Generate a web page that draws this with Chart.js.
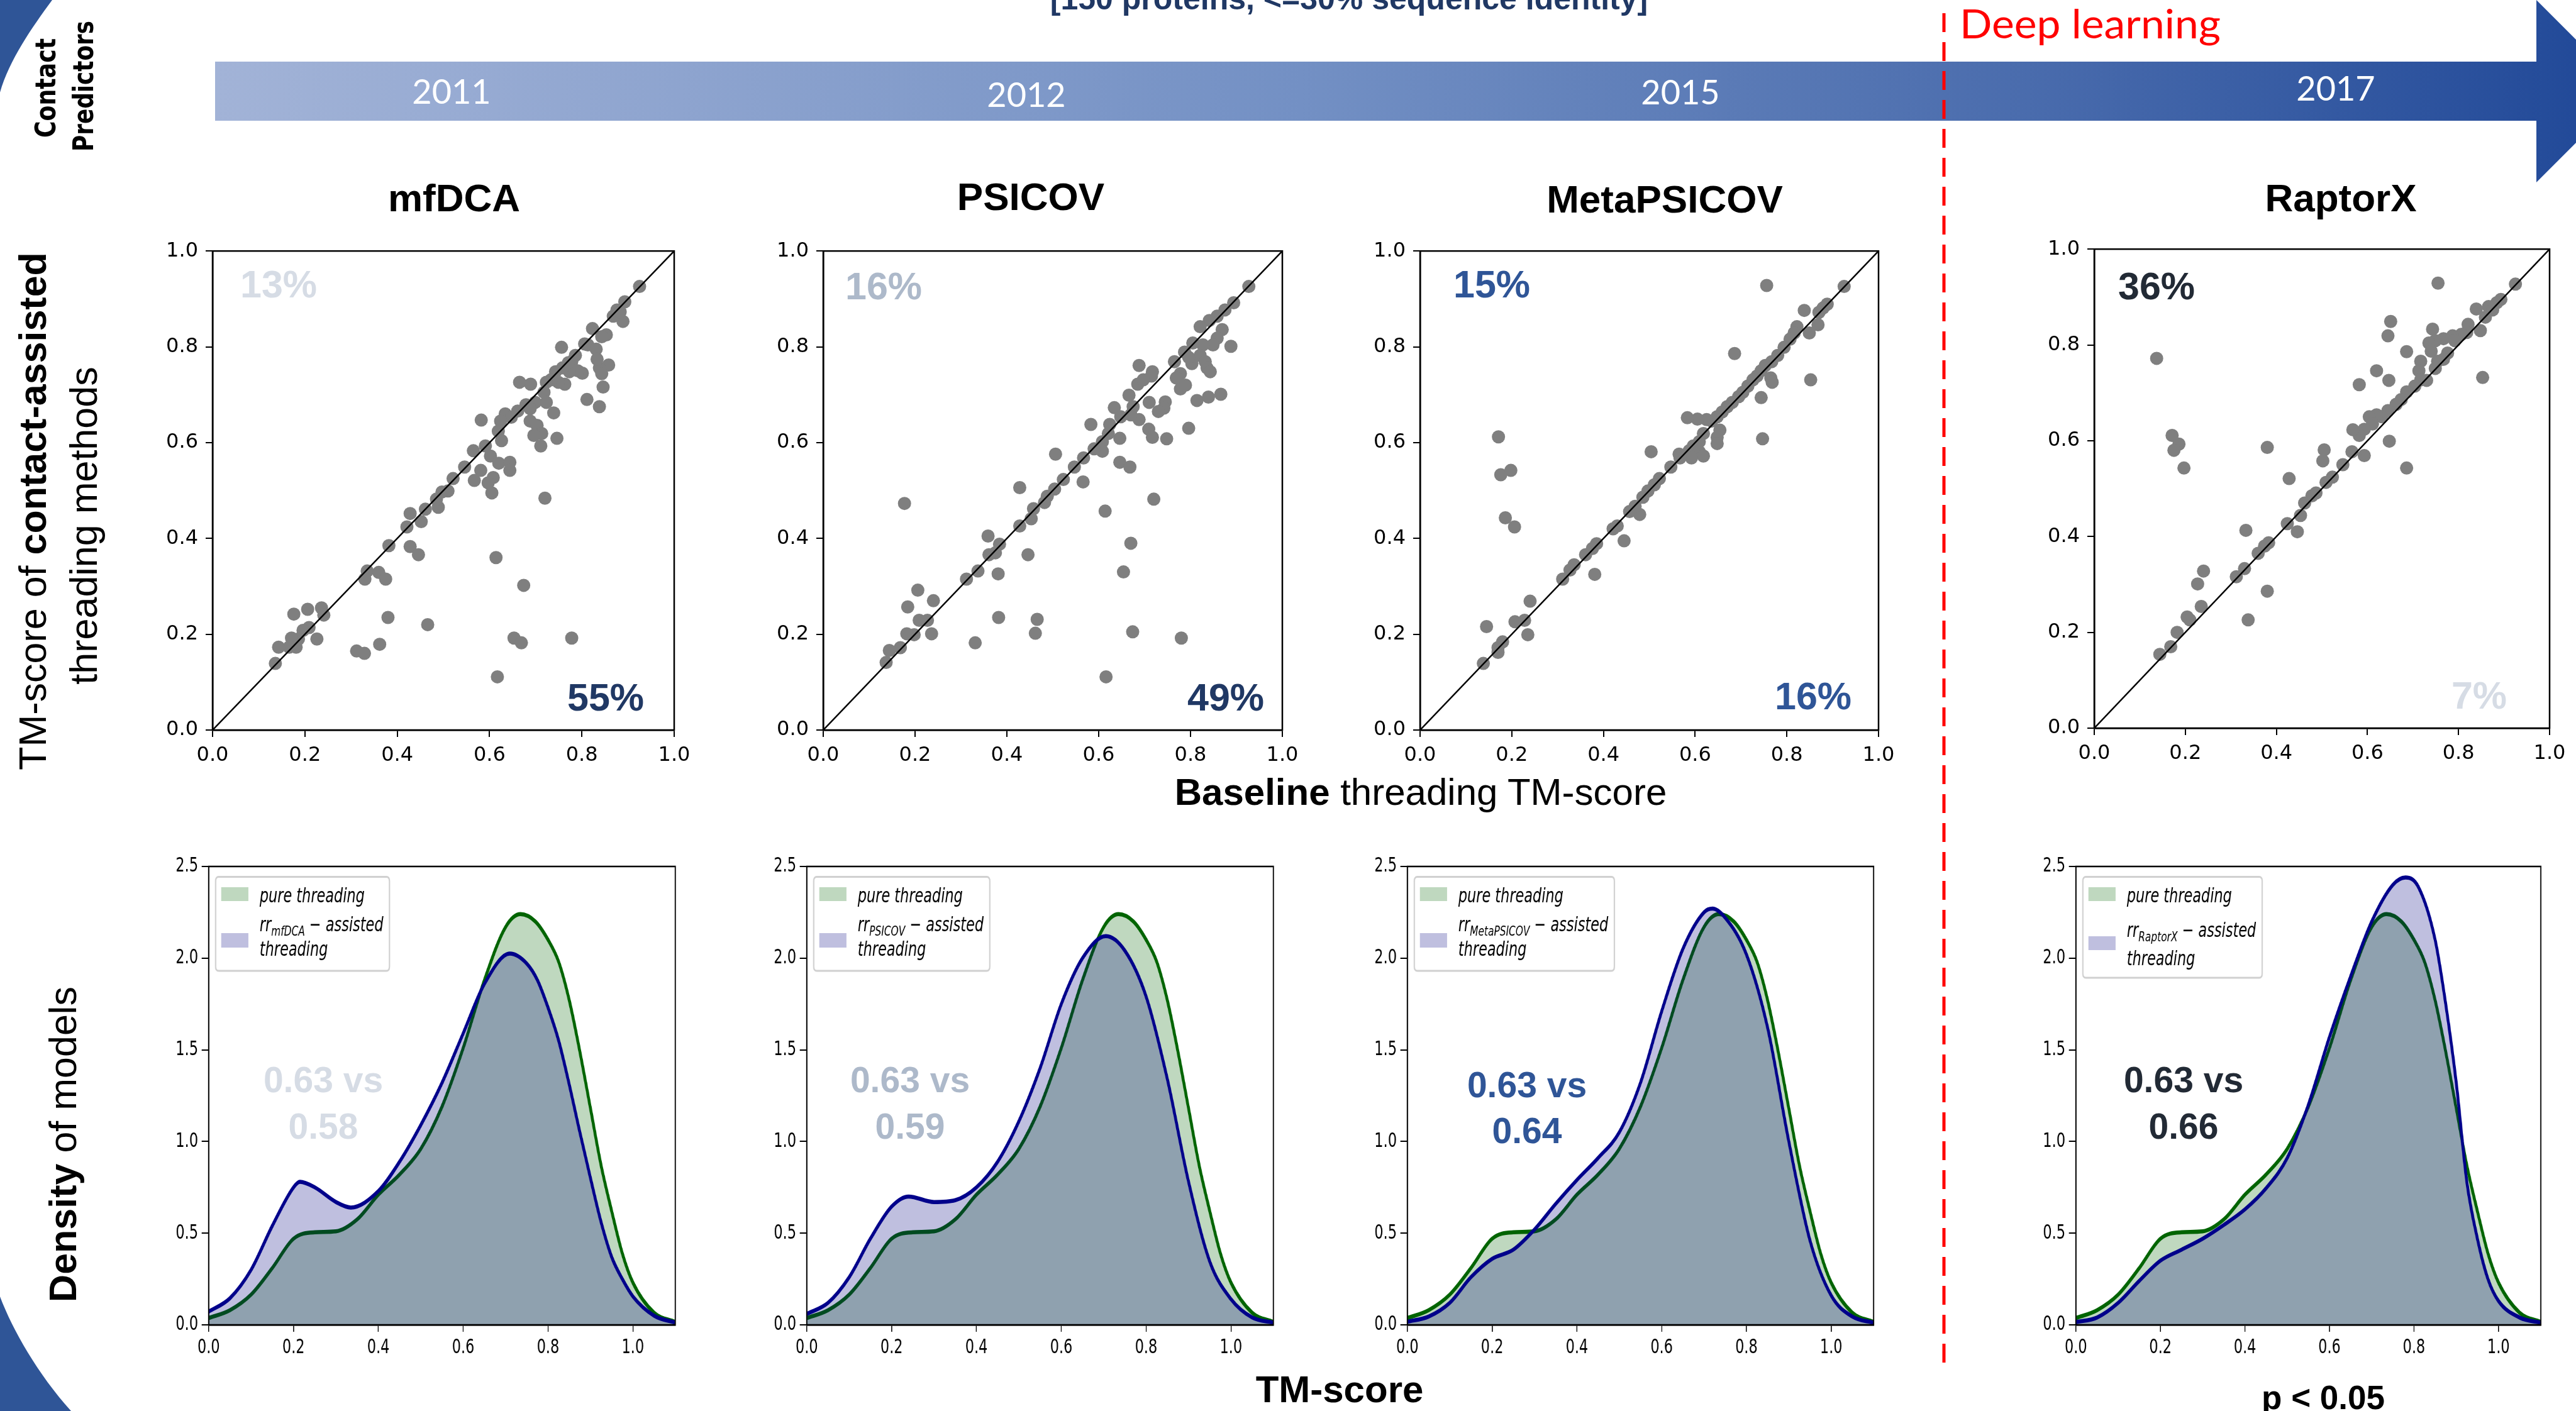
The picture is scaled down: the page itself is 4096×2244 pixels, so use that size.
<!DOCTYPE html>
<html>
<head>
<meta charset="utf-8">
<script src="https://cdn.jsdelivr.net/npm/chart.js@4.4.1/dist/chart.umd.min.js"></script>
<style>
  html, body { margin: 0; padding: 0; background: #fff; }
  #page { position: relative; width: 4096px; height: 2244px; overflow: hidden; background: #fff; }
  #page canvas { position: absolute; }
  #overlay { position: absolute; left: 0; top: 0; pointer-events: none; }
</style>
</head>
<body>
<div id="page"></div>
<script>
// ---------------- data ----------------
const predictors = ['mfDCA', 'PSICOV', 'MetaPSICOV', 'RaptorX'];
const years = ['2011', '2012', '2015', '2017'];
const improvedShare = ['13%', '16%', '15%', '36%'];
const worsenedShare = ['55%', '49%', '16%', '7%'];
const meanPure = ['0.63', '0.63', '0.63', '0.63'];
const meanAssisted = ['0.58', '0.59', '0.64', '0.66'];
const scatterTicks = [0, 0.2, 0.4, 0.6, 0.8, 1.0];
const densityXTicks = [0, 0.2, 0.4, 0.6, 0.8, 1.0];
const densityYTicks = [0, 0.5, 1.0, 1.5, 2.0, 2.5];
const diagonal = [[0, 0], [1, 1]];

// [baseline TM-score, contact-assisted TM-score]
const mfdcaPoints = [[.925,.926],[.893,.894],[.889,.853],[.876,.877],[.868,.864],[.883,.873],[.853,.825],[.823,.838],[.843,.821],[.813,.804],[.858,.762],[.838,.756],[.843,.744],[.846,.716],[.838,.675],[.811,.690],[.801,.745],[.791,.750],[.773,.748],[.763,.722],[.749,.726],[.756,.799],[.806,.806],[.831,.795],[.833,.774],[.786,.782],[.778,.769],[.771,.767],[.758,.756],[.743,.748],[.733,.731],[.723,.726],[.689,.722],[.665,.726],[.718,.705],[.723,.684],[.699,.684],[.679,.679],[.739,.662],[.688,.671],[.688,.645],[.703,.636],[.713,.619],[.696,.615],[.711,.593],[.746,.609],[.634,.660],[.647,.653],[.661,.666],[.624,.645],[.619,.624],[.582,.647],[.591,.593],[.565,.583],[.602,.572],[.626,.604],[.620,.557],[.644,.559],[.644,.542],[.581,.542],[.567,.521],[.608,.527],[.597,.516],[.605,.495],[.546,.549],[.521,.525],[.510,.499],[.497,.497],[.489,.465],[.485,.482],[.461,.461],[.452,.435],[.428,.452],[.421,.424],[.428,.383],[.446,.366],[.720,.484],[.382,.385],[.335,.332],[.330,.315],[.360,.329],[.375,.315],[.380,.235],[.466,.220],[.614,.360],[.674,.302],[.653,.192],[.669,.182],[.778,.192],[.617,.111],[.312,.165],[.329,.160],[.362,.179],[.236,.255],[.241,.240],[.206,.252],[.176,.242],[.209,.214],[.196,.208],[.186,.190],[.226,.190],[.171,.192],[.181,.173],[.166,.173],[.143,.173],[.136,.139]];
const psicovPoints = [[.927,.926],[.894,.892],[.888,.801],[.875,.877],[.869,.836],[.858,.864],[.841,.855],[.821,.842],[.858,.818],[.849,.804],[.827,.804],[.805,.808],[.821,.782],[.832,.769],[.836,.756],[.843,.748],[.803,.765],[.787,.789],[.796,.778],[.765,.769],[.778,.744],[.769,.735],[.778,.712],[.789,.720],[.814,.688],[.839,.695],[.866,.701],[.796,.630],[.748,.608],[.745,.685],[.742,.672],[.730,.665],[.717,.748],[.715,.739],[.688,.761],[.685,.722],[.697,.731],[.710,.684],[.709,.628],[.717,.611],[.666,.699],[.634,.673],[.675,.675],[.688,.648],[.670,.658],[.648,.654],[.624,.638],[.583,.638],[.646,.609],[.621,.619],[.608,.602],[.608,.582],[.590,.587],[.646,.559],[.668,.549],[.567,.568],[.566,.518],[.547,.549],[.523,.523],[.504,.503],[.488,.488],[.482,.475],[.506,.576],[.428,.506],[.458,.462],[.453,.441],[.428,.426],[.614,.457],[.720,.482],[.359,.405],[.384,.388],[.375,.370],[.361,.366],[.446,.366],[.381,.326],[.337,.332],[.312,.315],[.670,.390],[.654,.330],[.382,.235],[.466,.231],[.462,.202],[.674,.205],[.780,.192],[.616,.111],[.331,.182],[.177,.473],[.206,.292],[.240,.270],[.184,.257],[.209,.229],[.227,.229],[.236,.201],[.198,.199],[.182,.201],[.168,.172],[.144,.166],[.137,.141]];
const metaPoints = [[.925,.926],[.756,.928],[.888,.889],[.879,.881],[.870,.872],[.838,.876],[.868,.846],[.849,.829],[.822,.842],[.816,.829],[.807,.816],[.794,.799],[.780,.782],[.767,.769],[.753,.761],[.744,.750],[.735,.739],[.726,.731],[.715,.718],[.704,.705],[.695,.696],[.686,.786],[.852,.731],[.765,.735],[.768,.726],[.744,.694],[.747,.608],[.681,.684],[.670,.675],[.659,.664],[.648,.654],[.636,.645],[.625,.648],[.605,.649],[.583,.652],[.654,.626],[.648,.611],[.648,.598],[.618,.619],[.609,.602],[.596,.593],[.587,.583],[.565,.576],[.609,.581],[.618,.572],[.592,.568],[.567,.568],[.504,.581],[.547,.549],[.522,.525],[.511,.512],[.497,.499],[.486,.486],[.479,.450],[.469,.467],[.457,.456],[.445,.395],[.430,.426],[.421,.420],[.385,.389],[.376,.379],[.361,.366],[.381,.325],[.336,.345],[.327,.334],[.311,.315],[.240,.269],[.228,.229],[.207,.226],[.235,.199],[.180,.184],[.170,.172],[.170,.162],[.145,.216],[.138,.139],[.171,.612],[.176,.533],[.198,.542],[.186,.443],[.206,.424]];
const raptorPoints = [[.925,.927],[.755,.929],[.893,.895],[.884,.888],[.866,.880],[.875,.873],[.839,.875],[.859,.858],[.848,.830],[.821,.843],[.818,.826],[.853,.732],[.806,.822],[.787,.819],[.792,.809],[.767,.813],[.749,.809],[.735,.804],[.743,.833],[.740,.787],[.776,.783],[.767,.770],[.754,.766],[.749,.751],[.717,.766],[.713,.746],[.717,.727],[.730,.726],[.651,.849],[.645,.819],[.686,.786],[.620,.746],[.647,.726],[.582,.717],[.704,.714],[.686,.702],[.674,.686],[.663,.676],[.645,.663],[.632,.650],[.620,.654],[.604,.650],[.611,.635],[.593,.624],[.582,.611],[.568,.623],[.566,.577],[.593,.569],[.648,.599],[.686,.543],[.546,.550],[.523,.524],[.509,.513],[.505,.581],[.502,.558],[.487,.491],[.478,.485],[.462,.470],[.453,.444],[.428,.521],[.424,.427],[.446,.410],[.380,.586],[.383,.387],[.374,.380],[.360,.365],[.333,.413],[.330,.333],[.312,.316],[.380,.286],[.338,.226],[.240,.328],[.227,.301],[.235,.254],[.204,.232],[.210,.226],[.182,.200],[.168,.170],[.144,.154],[.137,.772],[.171,.611],[.186,.593],[.175,.580],[.197,.543]];

// density of models: [TM-score, density]
const pureKde = [[0,0.037],[0.05,0.08],[0.1,0.165],[0.15,0.31],[0.2,0.47],[0.25,0.505],[0.3,0.51],[0.35,0.575],[0.4,0.71],[0.45,0.82],[0.5,0.96],[0.55,1.19],[0.6,1.51],[0.65,1.88],[0.7,2.17],[0.735,2.24],[0.77,2.20],[0.8,2.10],[0.825,1.98],[0.85,1.77],[0.875,1.49],[0.9,1.18],[0.925,0.87],[0.95,0.62],[0.975,0.39],[1.0,0.23],[1.05,0.066],[1.1,0.016]];
const mfdcaKde = [[0,0.072],[0.05,0.145],[0.1,0.30],[0.15,0.54],[0.2,0.75],[0.215,0.78],[0.25,0.75],[0.3,0.67],[0.335,0.64],[0.4,0.73],[0.45,0.89],[0.5,1.09],[0.55,1.32],[0.6,1.59],[0.65,1.86],[0.71,2.025],[0.75,1.97],[0.775,1.88],[0.8,1.73],[0.825,1.55],[0.85,1.31],[0.875,1.05],[0.9,0.80],[0.925,0.56],[0.95,0.37],[0.975,0.25],[1.0,0.155],[1.05,0.05],[1.1,0.012]];
const psicovKde = [[0,0.06],[0.05,0.12],[0.1,0.26],[0.15,0.47],[0.2,0.645],[0.24,0.70],[0.3,0.67],[0.35,0.68],[0.4,0.75],[0.45,0.89],[0.5,1.11],[0.55,1.40],[0.6,1.75],[0.65,2.00],[0.705,2.12],[0.75,2.04],[0.8,1.79],[0.85,1.34],[0.9,0.78],[0.95,0.345],[1.0,0.14],[1.05,0.04],[1.1,0.012]];
const metaKde = [[0,0.017],[0.05,0.045],[0.1,0.12],[0.15,0.26],[0.2,0.36],[0.25,0.41],[0.3,0.52],[0.35,0.66],[0.4,0.79],[0.45,0.91],[0.5,1.05],[0.55,1.32],[0.6,1.71],[0.65,2.05],[0.7,2.25],[0.72,2.27],[0.75,2.22],[0.8,2.02],[0.85,1.62],[0.9,1.0],[0.95,0.46],[1.0,0.16],[1.05,0.045],[1.1,0.012]];
const raptorKde = [[0,0.015],[0.05,0.04],[0.1,0.12],[0.15,0.24],[0.2,0.35],[0.25,0.41],[0.3,0.47],[0.35,0.545],[0.4,0.63],[0.45,0.745],[0.5,0.91],[0.55,1.20],[0.6,1.57],[0.65,1.90],[0.7,2.20],[0.75,2.40],[0.78,2.44],[0.81,2.39],[0.85,2.10],[0.875,1.75],[0.9,1.32],[0.925,0.78],[0.95,0.47],[0.975,0.25],[1.0,0.13],[1.05,0.04],[1.1,0.012]];

const scatterSets = [mfdcaPoints, psicovPoints, metaPoints, raptorPoints];
const assistedKdes = [mfdcaKde, psicovKde, metaKde, raptorKde];

// ---------------- layout & style ----------------
const SQ = 0.7;                 // horizontal compression of the density panels
const SANS = "'Liberation Sans', Arial, sans-serif";
const TICKFONT = "'DejaVu Sans', sans-serif";
const scatterRects = [
  { l: 338, t: 398, r: 1072, b: 1161 },
  { l: 1309, t: 398, r: 2039, b: 1161 },
  { l: 2258, t: 398, r: 2987, b: 1161 },
  { l: 3330, t: 395, r: 4054, b: 1158 },
];
const densityRects = [
  { l: 332, t: 1378, r: 1074, b: 2107 },
  { l: 1283, t: 1378, r: 2025, b: 2107 },
  { l: 2238, t: 1378, r: 2979, b: 2107 },
  { l: 3301, t: 1378, r: 4040, b: 2107 },
];
const legendBoxes = [
  { bottom: 166, blue: [106, 129], b2: 103, b3: 142 },
  { bottom: 166, blue: [106, 129], b2: 103, b3: 142 },
  { bottom: 166, blue: [106, 129], b2: 103, b3: 142 },
  { bottom: 177, blue: [111, 133], b2: 112, b3: 157 },
];
const GREEN_FILL = 'rgba(0,100,0,0.25)';
const BLUE_FILL = 'rgba(0,0,128,0.25)';

Chart.defaults.color = '#000';

const page = document.getElementById('page');
const toXY = arr => arr.map(p => ({ x: p[0], y: p[1] }));

function makeCanvas(rect, m, squish) {
  const plotW = (rect.r - rect.l) / squish;
  const plotH = rect.b - rect.t;
  const c = document.createElement('canvas');
  c.width = Math.round(m.ly + plotW + m.pr);
  c.height = Math.round(m.pt + plotH + m.lx);
  c.style.left = (rect.l - m.ly * squish) + 'px';
  c.style.top = (rect.t - m.pt) + 'px';
  if (squish !== 1) {
    c.style.transform = 'scaleX(' + squish + ')';
    c.style.transformOrigin = '0 0';
  }
  page.appendChild(c);
  return c;
}

// full box around the plotting area
const framePlugin = {
  id: 'frame',
  afterDatasetsDraw(chart, args, opts) {
    const a = chart.chartArea, ctx = chart.ctx;
    ctx.save();
    ctx.strokeStyle = '#000';
    ctx.lineWidth = opts.width || 2;
    ctx.strokeRect(a.left, a.top, a.right - a.left, a.bottom - a.top);
    ctx.restore();
  }
};

// legend with a subscripted predictor name
const kdeLegend = {
  id: 'kdeLegend',
  afterDraw(chart, args, o) {
    if (!o || !o.sub) return;
    const ctx = chart.ctx, a = chart.chartArea;
    const X = v => a.left + v / SQ;
    const Y = v => a.top + v;
    const fs = 32;
    const it = 'italic ' + fs + "px 'DejaVu Sans'";
    const sub = 'italic ' + Math.round(fs * 0.7) + "px 'DejaVu Sans'";
    const up = fs + "px 'DejaVu Sans'";
    ctx.save();
    ctx.font = it; const w1 = ctx.measureText('pure threading').width;
    const wrr = ctx.measureText('rr').width;
    const was = ctx.measureText('assisted').width;
    ctx.font = sub; const wsub = ctx.measureText(o.sub).width;
    ctx.font = up; const wm = ctx.measureText(' \u2212 ').width;
    const w2 = wrr + wsub + wm + was;
    const tx = X(81);
    const bl = X(11), bt = Y(16.6), br = tx + Math.max(w1, w2) + 14, bb = Y(o.bottom);
    const r = 7;
    ctx.beginPath();
    ctx.moveTo(bl + r, bt);
    ctx.lineTo(br - r, bt); ctx.quadraticCurveTo(br, bt, br, bt + r);
    ctx.lineTo(br, bb - r); ctx.quadraticCurveTo(br, bb, br - r, bb);
    ctx.lineTo(bl + r, bb); ctx.quadraticCurveTo(bl, bb, bl, bb - r);
    ctx.lineTo(bl, bt + r); ctx.quadraticCurveTo(bl, bt, bl + r, bt);
    ctx.closePath();
    ctx.fillStyle = 'rgba(255,255,255,0.85)';
    ctx.fill();
    ctx.strokeStyle = '#d0d0d0';
    ctx.lineWidth = 3;
    ctx.stroke();
    ctx.fillStyle = GREEN_FILL;
    ctx.fillRect(X(20), Y(33), X(63) - X(20), 22);
    ctx.fillStyle = BLUE_FILL;
    ctx.fillRect(X(20), Y(o.blue[0]), X(63) - X(20), o.blue[1] - o.blue[0]);
    ctx.fillStyle = '#000';
    ctx.textBaseline = 'alphabetic';
    ctx.font = it; ctx.fillText('pure threading', tx, Y(57));
    let x = tx;
    ctx.fillText('rr', x, Y(o.b2)); x += wrr;
    ctx.font = sub; ctx.fillText(o.sub, x, Y(o.b2) + 7); x += wsub;
    ctx.font = up; ctx.fillText(' \u2212 ', x, Y(o.b2)); x += wm;
    ctx.font = it; ctx.fillText('assisted', x, Y(o.b2));
    ctx.fillText('threading', tx, Y(o.b3));
    ctx.restore();
  }
};

function axisOpts(min, max, step, fixed, tickLen, pad, size, keep) {
  return {
    type: 'linear', min: min, max: max,
    afterFit: fixed,
    afterBuildTicks: s => { s.ticks = keep.map(v => ({ value: v })); },
    grid: { display: true, drawOnChartArea: false, tickLength: tickLen, color: '#000', lineWidth: 2 },
    border: { display: true, color: '#000', width: 2.5 },
    ticks: { stepSize: step, includeBounds: false, padding: pad, maxRotation: 0, autoSkip: false,
             font: { family: TICKFONT, size: size }, color: '#000', callback: v => Number(v).toFixed(1) }
  };
}

// ---- scatter panels ----
const SM = { ly: 110, lx: 75, pt: 30, pr: 45 };
scatterSets.forEach((pts, i) => {
  const c = makeCanvas(scatterRects[i], SM, 1);
  new Chart(c, {
    type: 'scatter',
    data: {
      datasets: [
        { type: 'line', data: toXY(diagonal), borderColor: '#000', borderWidth: 2.5, pointRadius: 0, order: 0 },
        { label: predictors[i], data: toXY(pts), backgroundColor: '#7f7f7f', borderWidth: 0, pointRadius: 10.5, order: 1 }
      ]
    },
    options: {
      responsive: false, animation: false, devicePixelRatio: 1, events: [],
      layout: { padding: { left: 0, top: SM.pt, right: SM.pr, bottom: 0 } },
      plugins: { legend: { display: false }, tooltip: { enabled: false }, frame: { width: 2.5 } },
      scales: {
        x: axisOpts(0, 1, 0.2, s => { s.height = SM.lx; }, 11, 10, 32, scatterTicks),
        y: axisOpts(0, 1, 0.2, s => { s.width = SM.ly; }, 11, 12, 32, scatterTicks)
      }
    },
    plugins: [framePlugin]
  });
});

// ---- density panels ----
const DM = { ly: 84, lx: 75, pt: 30, pr: 45 };
assistedKdes.forEach((kde, i) => {
  const c = makeCanvas(densityRects[i], DM, SQ);
  new Chart(c, {
    type: 'line',
    data: {
      datasets: [
        { label: 'assisted', data: toXY(kde), borderColor: '#00008b', backgroundColor: BLUE_FILL,
          fill: 'origin', borderWidth: 6.5, pointRadius: 0, cubicInterpolationMode: 'monotone', order: 0 },
        { label: 'pure', data: toXY(pureKde), borderColor: '#006400', backgroundColor: GREEN_FILL,
          fill: 'origin', borderWidth: 6.5, pointRadius: 0, cubicInterpolationMode: 'monotone', order: 1 }
      ]
    },
    options: {
      responsive: false, animation: false, devicePixelRatio: 1, events: [],
      layout: { padding: { left: 0, top: DM.pt, right: DM.pr, bottom: 0 } },
      plugins: {
        legend: { display: false }, tooltip: { enabled: false }, frame: { width: 2.5 },
        kdeLegend: Object.assign({ sub: predictors[i] }, legendBoxes[i])
      },
      scales: {
        x: axisOpts(0, 1.1, 0.2, s => { s.height = DM.lx; }, 11, 6, 32, densityXTicks),
        y: axisOpts(0, 2.5, 0.5, s => { s.width = DM.ly; }, 16, 8, 32, densityYTicks)
      }
    },
    plugins: [framePlugin, kdeLegend]
  });
});

// ---------------- banner, labels and annotations ----------------
const esc = s => s.replace(/&/g, '&amp;').replace(/</g, '&lt;').replace(/>/g, '&gt;');
function txt(x, y, s, o) {
  o = o || {};
  const tr = o.rot ? ' transform="translate(' + x + ',' + y + ') rotate(-90)"' : '';
  const pos = o.rot ? ' x="0" y="0"' : ' x="' + x + '" y="' + y + '"';
  return '<text' + pos + tr +
    ' text-anchor="' + (o.anchor || 'middle') + '"' +
    ' font-family="' + (o.family || SANS).replace(/"/g, "'") + '"' +
    ' font-size="' + o.size + '"' +
    (o.weight ? ' font-weight="' + o.weight + '"' : '') +
    ' fill="' + (o.fill || '#000') + '"' +
    (o.len ? ' textLength="' + o.len + '" lengthAdjust="spacingAndGlyphs"' : '') +
    '>' + s + '</text>';
}
const B = s => '<tspan font-weight="bold">' + esc(s) + '</tspan>';

const yearPos = [[718, 165], [1632, 170], [2672, 166], [3714, 160]];
const titlePos = [[722, 336], [1639, 334], [2647, 338], [3722, 336]];
const topPctPos = [[443, 473], [1405, 476], [2372, 473], [3429, 476]];
const botPctPos = [[963, 1130], [1949, 1130], [2883, 1128], [3942, 1127]];
const topPctColor = ['#d6dce5', '#adb9ca', '#2f5597', '#222a35'];
const botPctColor = ['#203864', '#203864', '#2f5597', '#d6dce5'];
const meanPos = [[514, 1737, 1811], [1447, 1737, 1811], [2428, 1745, 1818], [3472, 1737, 1811]];
const meanColor = ['#d6dce5', '#adb9ca', '#2f5597', '#222a35'];

let svg = '<svg id="overlay" width="4096" height="2244" xmlns="http://www.w3.org/2000/svg">';
svg += '<defs><linearGradient id="band" gradientUnits="userSpaceOnUse" x1="342" y1="0" x2="4178" y2="0">' +
       '<stop offset="0" stop-color="#a2b3d7"/><stop offset="0.45" stop-color="#7390c4"/>' +
       '<stop offset="0.75" stop-color="#4a6cad"/><stop offset="1" stop-color="#1f4797"/></linearGradient></defs>';
// corner accents
svg += '<path d="M0,0 L83,0 C50,45 15,95 0,147 Z" fill="#2f5597"/>';
svg += '<path d="M0,2062 C20,2115 60,2185 113,2244 L0,2244 Z" fill="#2f5597"/>';
// timeline arrow
svg += '<path d="M342,98 L4033,98 L4033,0 L4178,145 L4033,290 L4033,192 L342,192 Z" fill="url(#band)"/>';
years.forEach((y, i) => { svg += txt(yearPos[i][0], yearPos[i][1], y, { size: 54, family: "Lato, 'Open Sans', sans-serif", fill: '#ffffff' }); });
// deep learning divider
svg += '<line x1="3091" y1="21" x2="3091" y2="2168" stroke="#ff0000" stroke-width="5" stroke-dasharray="30 16"/>';
svg += txt(3116, 61, 'Deep learning', { size: 64, family: "Lato, 'Open Sans', sans-serif", fill: '#ff0000', anchor: 'start', len: 415 });
svg += txt(2145, 15, esc('[150 proteins, <=30% sequence identity]'), { size: 50, weight: 'bold', fill: '#203864' });
// row header
svg += txt(88, 140, 'Contact', { rot: true, size: 45, weight: 'bold', family: "'DejaVu Sans', sans-serif", len: 158 });
svg += txt(148, 137, 'Predictors', { rot: true, size: 45, weight: 'bold', family: "'DejaVu Sans', sans-serif", len: 208 });
// panel titles
predictors.forEach((p, i) => { svg += txt(titlePos[i][0], titlePos[i][1], p, { size: 62, weight: 'bold' }); });
// scatter axis titles
svg += txt(73, 813, 'TM-score of ' + B('contact-assisted'), { rot: true, size: 61 });
svg += txt(154, 836, 'threading methods', { rot: true, size: 61 });
svg += txt(2259, 1280, B('Baseline') + ' threading TM-score', { size: 60 });
// shares of improved / worsened targets
predictors.forEach((p, i) => {
  svg += txt(topPctPos[i][0], topPctPos[i][1], improvedShare[i], { size: 61, weight: 'bold', fill: topPctColor[i] });
  svg += txt(botPctPos[i][0], botPctPos[i][1], worsenedShare[i], { size: 61, weight: 'bold', fill: botPctColor[i] });
});
// density axis titles and mean TM-scores
svg += txt(121, 1820, B('Density') + ' of models', { rot: true, size: 61 });
predictors.forEach((p, i) => {
  svg += txt(meanPos[i][0], meanPos[i][1], meanPure[i] + ' vs', { size: 57, weight: 'bold', fill: meanColor[i] });
  svg += txt(meanPos[i][0], meanPos[i][2], meanAssisted[i], { size: 57, weight: 'bold', fill: meanColor[i] });
});
svg += txt(2130, 2230, 'TM-score', { size: 60, weight: 'bold' });
svg += txt(3694, 2241, esc('p < 0.05'), { size: 53, weight: 'bold' });
svg += '</svg>';
page.insertAdjacentHTML('beforeend', svg);
</script>
</body>
</html>
